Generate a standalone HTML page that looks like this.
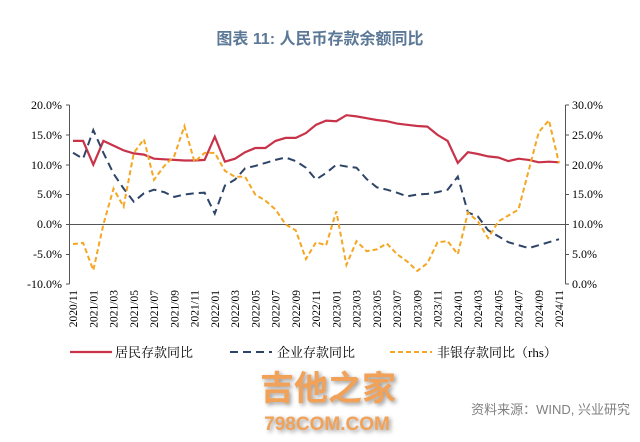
<!DOCTYPE html>
<html><head><meta charset="utf-8"><style>
body{margin:0;background:#fff;width:640px;height:442px;overflow:hidden;}
svg{display:block}
</style></head><body>
<svg id="s" width="640" height="442" xmlns="http://www.w3.org/2000/svg">
<text x="320" y="44" text-anchor="middle" font-family="Liberation Sans, Noto Sans CJK SC, sans-serif" font-size="16" font-weight="bold" fill="#5b7896">图表 11: 人民币存款余额同比</text>
<g font-family="Liberation Serif, serif" font-size="12" fill="#000">
<text x="62" y="109" text-anchor="end">20.0%</text>
<text x="62" y="139" text-anchor="end">15.0%</text>
<text x="62" y="169" text-anchor="end">10.0%</text>
<text x="62" y="198" text-anchor="end">5.0%</text>
<text x="62" y="228" text-anchor="end">0.0%</text>
<text x="62" y="258" text-anchor="end">-5.0%</text>
<text x="62" y="288" text-anchor="end">-10.0%</text>
<text x="572" y="109">30.0%</text>
<text x="572" y="139">25.0%</text>
<text x="572" y="169">20.0%</text>
<text x="572" y="198">15.0%</text>
<text x="572" y="228">10.0%</text>
<text x="572" y="258">5.0%</text>
<text x="572" y="288">0.0%</text>
</g>
<g stroke="#555" stroke-width="1" fill="none">
<line x1="69.5" y1="105" x2="69.5" y2="284"/>
<line x1="565.5" y1="105" x2="565.5" y2="284"/>
<line x1="69.5" y1="224.5" x2="565.5" y2="224.5"/>
</g>
<g id="ticks" stroke="#555"></g>
<g id="xl" font-family="Liberation Serif, serif" font-size="11.5" fill="#000"></g>
<polyline id="red" fill="none" stroke="#c8334a" stroke-width="2.2"/>
<polyline id="blue" fill="none" stroke="#2e4468" stroke-width="2" stroke-dasharray="8,5"/>
<polyline id="org" fill="none" stroke="#f5a623" stroke-width="2" stroke-dasharray="5,3"/>
<g font-family="Liberation Serif, Noto Serif CJK SC, serif" font-size="13" fill="#000">
<line x1="70" y1="352" x2="112" y2="352" stroke="#c8334a" stroke-width="2.2"/>
<text x="115" y="357">居民存款同比</text>
<line x1="230" y1="352" x2="272" y2="352" stroke="#2e4468" stroke-width="2" stroke-dasharray="8,5"/>
<text x="277" y="357">企业存款同比</text>
<line x1="390" y1="352" x2="432" y2="352" stroke="#f5a623" stroke-width="2" stroke-dasharray="5,3"/>
<text x="437" y="357">非银存款同比（rhs）</text>
</g>
<text x="328" y="400" text-anchor="middle" font-family="Noto Sans CJK SC, sans-serif" font-size="34" font-weight="bold" fill="#f2a258" style="filter:drop-shadow(2px 2px 2px #999)">吉他之家</text>
<text x="327" y="430" text-anchor="middle" font-family="Liberation Sans, sans-serif" font-size="19" font-weight="bold" fill="#f2a258" style="filter:drop-shadow(2px 2px 2px #999)">798COM.COM</text>
<text x="630" y="414" text-anchor="end" font-family="Liberation Sans, Noto Sans CJK SC, sans-serif" font-size="13" fill="#808080">资料来源：WIND, 兴业研究</text>
</svg>
<script>
var red=[14,14,10,14,13.2,12.4,11.9,11.7,11.0,10.9,10.8,10.7,10.7,10.8,14.7,10.5,11.0,12.1,12.8,12.8,14.0,14.5,14.5,15.3,16.7,17.4,17.3,18.3,18.1,17.8,17.5,17.3,16.9,16.7,16.5,16.4,15.0,14.0,10.3,12.1,11.8,11.4,11.2,10.6,11.0,10.8,10.4,10.5,10.4];
var blue=[12.0,11.0,15.8,12.0,8.5,6.0,3.8,5.2,5.8,5.4,4.6,5.0,5.2,5.3,1.8,6.5,7.5,9.4,9.8,10.3,10.8,11.2,10.6,9.5,7.5,8.6,10.0,9.7,9.5,7.6,6.2,5.8,5.3,4.7,5.0,5.1,5.4,5.8,8.0,2.0,1.3,-1.0,-2.0,-3.0,-3.5,-4.0,-3.5,-3.0,-2.5];
var org=[6.7,6.9,2.3,10,16,13,22,24.3,17.5,19.8,21.5,26.5,20.5,22,22,19,18,18,15,14,12.5,10,9,4.2,7,6.5,12.2,3.2,7.2,5.5,5.8,6.8,5,3.8,2.2,3.5,7,7.2,5.0,12,10.5,7.7,10.5,11.5,12.5,19,25.5,27.5,20.3];
function X(i){return 73+10.125*i}
function pts(a,f){return a.map(function(v,i){return X(i).toFixed(1)+','+f(v).toFixed(1)}).join(' ')}
document.getElementById('red').setAttribute('points',pts(red,function(v){return 224.3-v*5.96}));
document.getElementById('blue').setAttribute('points',pts(blue,function(v){return 224.3-v*5.96}));
document.getElementById('org').setAttribute('points',pts(org,function(v){return 284-v*5.957}));
var ns='http://www.w3.org/2000/svg';
var tk=document.getElementById('ticks');
[105,135,165,194.5,224.5,254.5,284].forEach(function(y){
 var l=document.createElementNS(ns,'line');l.setAttribute('x1',66);l.setAttribute('x2',69.5);l.setAttribute('y1',y);l.setAttribute('y2',y);tk.appendChild(l);
 var r=document.createElementNS(ns,'line');r.setAttribute('x1',565.5);r.setAttribute('x2',569);r.setAttribute('y1',y);r.setAttribute('y2',y);tk.appendChild(r);
});
</script>
<svg width="640" height="442" style="position:absolute;left:0;top:0" xmlns="http://www.w3.org/2000/svg">
<g font-family="Liberation Serif, serif" font-size="11.5" fill="#000" text-anchor="end">
<text transform="translate(77,290) rotate(-90)">2020/11</text>
<text transform="translate(97.3,290) rotate(-90)">2021/01</text>
<text transform="translate(117.5,290) rotate(-90)">2021/03</text>
<text transform="translate(137.8,290) rotate(-90)">2021/05</text>
<text transform="translate(158,290) rotate(-90)">2021/07</text>
<text transform="translate(178.3,290) rotate(-90)">2021/09</text>
<text transform="translate(198.5,290) rotate(-90)">2021/11</text>
<text transform="translate(218.8,290) rotate(-90)">2022/01</text>
<text transform="translate(239,290) rotate(-90)">2022/03</text>
<text transform="translate(259.3,290) rotate(-90)">2022/05</text>
<text transform="translate(279.5,290) rotate(-90)">2022/07</text>
<text transform="translate(299.8,290) rotate(-90)">2022/09</text>
<text transform="translate(320,290) rotate(-90)">2022/11</text>
<text transform="translate(340.3,290) rotate(-90)">2023/01</text>
<text transform="translate(360.5,290) rotate(-90)">2023/03</text>
<text transform="translate(380.8,290) rotate(-90)">2023/05</text>
<text transform="translate(401,290) rotate(-90)">2023/07</text>
<text transform="translate(421.3,290) rotate(-90)">2023/09</text>
<text transform="translate(441.5,290) rotate(-90)">2023/11</text>
<text transform="translate(461.8,290) rotate(-90)">2024/01</text>
<text transform="translate(482,290) rotate(-90)">2024/03</text>
<text transform="translate(502.3,290) rotate(-90)">2024/05</text>
<text transform="translate(522.5,290) rotate(-90)">2024/07</text>
<text transform="translate(542.8,290) rotate(-90)">2024/09</text>
<text transform="translate(563,290) rotate(-90)">2024/11</text>
</g>
</svg>
</body></html>
